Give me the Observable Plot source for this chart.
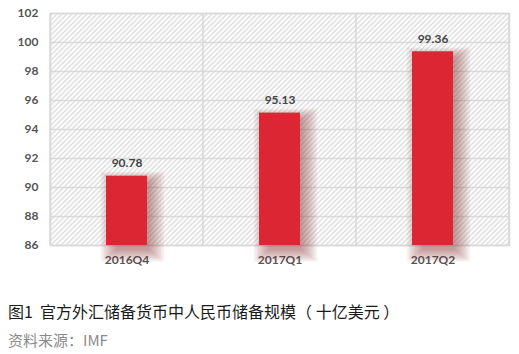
<!DOCTYPE html>
<html><head><meta charset="utf-8">
<script src="https://cdn.jsdelivr.net/npm/d3@7"></script>
<script src="https://cdn.jsdelivr.net/npm/@observablehq/plot@0.6"></script>
<style>
body{margin:0;background:#fff;width:519px;height:354px;overflow:hidden;}
#chart{position:absolute;left:0;top:0;}
.title{position:absolute;left:8px;top:301px;font-family:"Noto Sans CJK SC";font-size:16px;line-height:20px;color:#1a1a1a;white-space:nowrap;}
.source{position:absolute;left:8px;top:330px;font-family:"Noto Sans CJK SC";font-size:15px;line-height:20px;color:#8a8a8a;white-space:nowrap;}
</style></head>
<body>
<div id="chart"></div>
<div class="title">图1&nbsp; 官方外汇储备货币中人民币储备规模（ 十亿美元 ）</div>
<div class="source">资料来源：IMF</div>
<script>
const categories = ["2016Q4", "2017Q1", "2017Q2"];
const values = [90.78, 95.13, 99.36];
const yTicks = [86, 88, 90, 92, 94, 96, 98, 100, 102];
const data = categories.map((c, i) => ({cat: c, value: values[i]}));

// soft shadow approximated with stacked translucent bars
const shadowLayers = [0, 1, 2, 3, 4, 5, 6, 7, 8, 9].map(k =>
  Plot.barY(data, {
    x: "cat", y1: 86, y2: "value",
    dx: 6, dy: 3,
    insetLeft: -k * 1.7 + 4, insetRight: -k * 1.7 + 4, insetTop: -k * 1.2 + 4, insetBottom: -k * 1.3 - 2,
    fill: "#7a1c1c", fillOpacity: 0.055
  })
);

const plot = Plot.plot({
  width: 519, height: 280,
  marginTop: 13, marginBottom: 35, marginLeft: 50, marginRight: 10,
  style: {fontFamily: "Lato", fontSize: "12px", color: "#555", background: "transparent"},
  x: {domain: categories, paddingInner: 0.73, paddingOuter: 0.365, label: null, tickSize: 0, tickPadding: 10},
  y: {domain: [86, 102], ticks: yTicks, label: null, tickSize: 0, tickPadding: 12, tickFormat: d => d},
  marks: [
    Plot.frame({fill: "url(#hatch)", stroke: "#d9d9d9", strokeWidth: 1.5}),
    Plot.ruleY(yTicks, {stroke: "#d9d9d9", strokeWidth: 1.5}),
    ...shadowLayers,
    Plot.barY(data, {x: "cat", y1: 86, y2: "value", fill: "#dc2634"}),
    Plot.text(data, {x: "cat", y: "value", text: d => d.value.toFixed(2), dy: -13, fill: "#444", fontWeight: "bold", fontSize: 12})
  ]
});
document.getElementById("chart").appendChild(plot);

const svg = d3.select(plot);
const defs = svg.insert("defs", ":first-child");
const pat = defs.append("pattern").attr("id", "hatch").attr("patternUnits", "userSpaceOnUse")
  .attr("width", 5).attr("height", 5);
pat.append("rect").attr("width", 5).attr("height", 5).attr("fill", "#fcfcfc");
pat.append("path").attr("d", "M-1,1 l2,-2 M0,5 l5,-5 M4,6 l2,-2").attr("stroke", "#c4c4c4").attr("stroke-width", 1);

// vertical gridlines at band boundaries, from the library's x scale
const xs = plot.scale("x"), ys = plot.scale("y");
const step = xs.step;
const bounds = categories.map(c => xs.apply(c) - (step - xs.bandwidth) / 2);
bounds.push(bounds[bounds.length - 1] + step);
const gridG = svg.insert("g", 'g[aria-label="bar"]');
gridG.selectAll("line").data(bounds).join("line")
  .attr("x1", d => d).attr("x2", d => d)
  .attr("y1", ys.apply(102)).attr("y2", ys.apply(86))
  .attr("stroke", "#d9d9d9").attr("stroke-width", 1.5);

svg.selectAll('g[aria-label="x-axis tick label"] text, g[aria-label="y-axis tick label"] text').attr("font-weight", "bold");
</script>
</body></html>
